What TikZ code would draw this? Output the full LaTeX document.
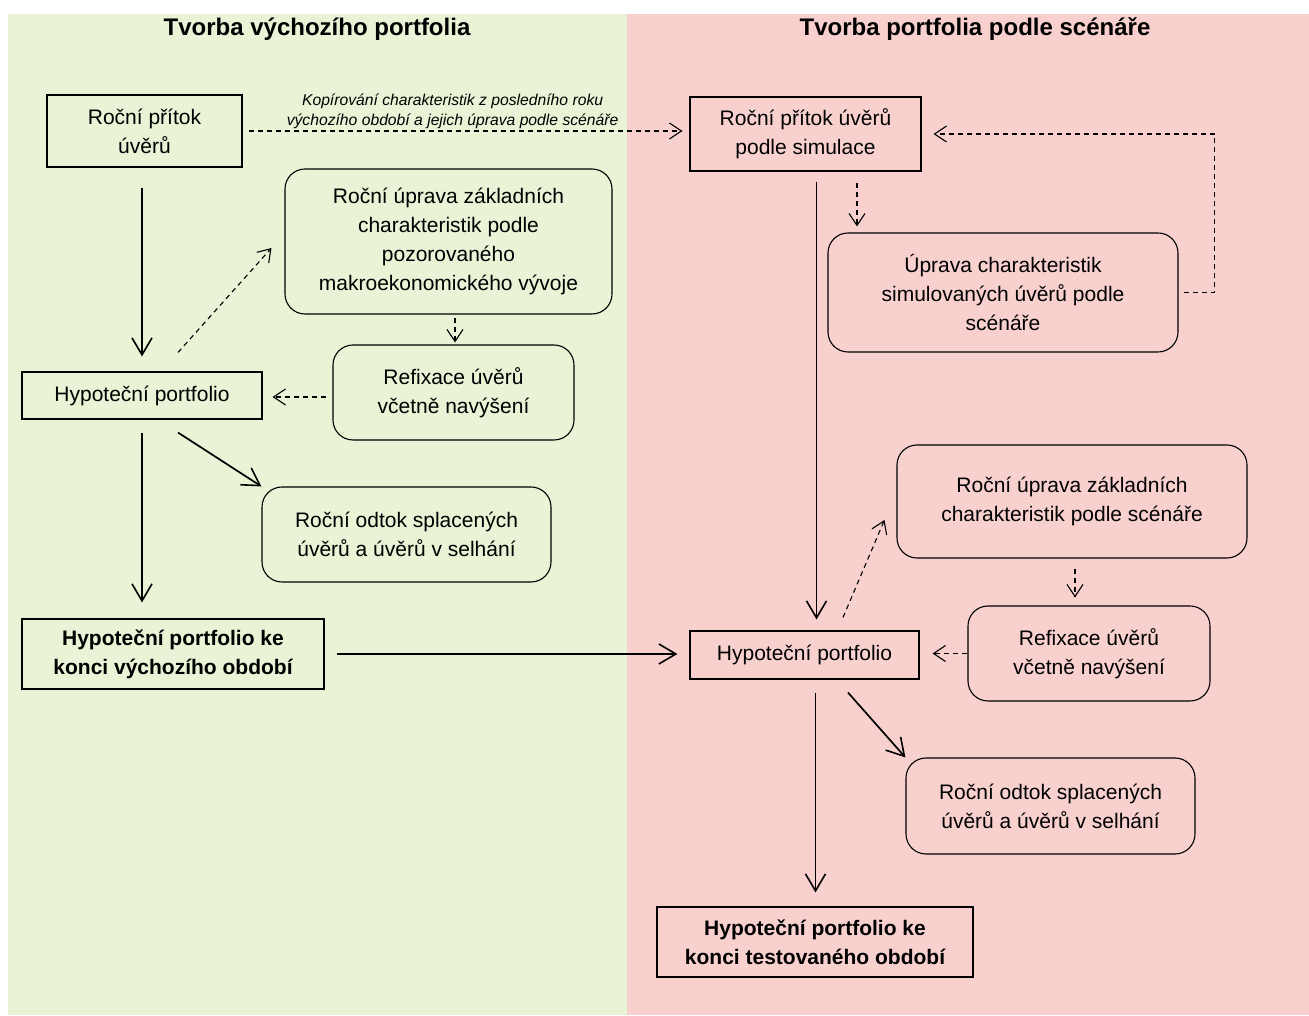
\documentclass[tikz,border=0pt]{standalone}
\usepackage{fontspec}
\setmainfont{Liberation Sans}
\usepackage{tikz}
\usetikzlibrary{arrows.meta, positioning, calc}
\definecolor{zelena}{RGB}{233,243,214}
\definecolor{ruzova}{RGB}{248,209,207}
\tikzset{>=stealth,
  box/.style={draw, line width=1.1pt, inner sep=0pt, align=center,
    font=\fontsize{21}{29}\selectfont},
  rbox/.style={box, rounded corners=20pt},
  flow/.style={line width=1.7pt, -{Straight Barb[length=17pt,width=20pt,line width=1.6pt]}},
  dflow/.style={line width=1.1pt, dash pattern=on 5pt off 4pt,
    -{Straight Barb[length=12pt,width=16pt,line width=1.1pt]}},
  nadpis/.style={font=\fontsize{24}{28}\selectfont\bfseries}}

\begin{document}
\begin{tikzpicture}[x=1pt,y=1pt]
        \useasboundingbox (0,0) rectangle (1309,1015);
        \fill [zelena] (8,0) rectangle (627,1001);
        \fill [ruzova] (627,0) rectangle (1309,1001);
        \node (T1) at (317,986) [nadpis]{Tvorba výchozího portfolia};
        \node (T2) at (975,986) [nadpis]{Tvorba portfolia podle scénáře};
        % vychozi obdobi
        \node (A1) at (144.5,884) [box, minimum width=195, minimum height=72]{Roční přítok\\úvěrů};
        \node (A2) at (448.5,773.5) [rbox, minimum width=327, minimum height=145]{Roční úprava základních\\charakteristik podle\\pozorovaného\\makroekonomického vývoje};
        \node (A3) at (453.5,622.5) [rbox, minimum width=241, minimum height=95]{Refixace úvěrů\\včetně navýšení};
        \node (A4) at (142,619.5) [box, minimum width=240, minimum height=47]{Hypoteční portfolio};
        \node (A5) at (406.5,480.5) [rbox, minimum width=289, minimum height=95]{Roční odtok splacených\\úvěrů a úvěrů v selhání};
        \node (A6) at (173,361) [box, minimum width=302, minimum height=70, font=\fontsize{21}{29}\selectfont\bfseries]{Hypoteční portfolio ke\\konci výchozího období};
        % scenar
        \node (B1) at (805.5,881) [box, minimum width=231, minimum height=74]{Roční přítok úvěrů\\podle simulace};
        \node (B2) at (1003,722.5) [rbox, minimum width=350, minimum height=119]{Úprava charakteristik\\simulovaných úvěrů podle\\scénáře};
        \node (B3) at (1072,513.5) [rbox, minimum width=350, minimum height=113]{Roční úprava základních\\charakteristik podle scénáře};
        \node (B4) at (804.5,360) [box, minimum width=229, minimum height=48]{Hypoteční portfolio};
        \node (B5) at (1089,361.5) [rbox, minimum width=242, minimum height=95]{Refixace úvěrů\\včetně navýšení};
        \node (B6) at (1050.5,209) [rbox, minimum width=289, minimum height=96]{Roční odtok splacených\\úvěrů a úvěrů v selhání};
        \node (B7) at (815,73) [box, minimum width=316, minimum height=70, font=\fontsize{21}{29}\selectfont\bfseries]{Hypoteční portfolio ke\\konci testovaného období};
        % plne sipky
        \draw [flow, shorten <=20pt, shorten >=15pt](A1.south -| A4.north)--(A4.north);
        \draw [flow, shorten <=13pt, shorten >=16pt](A4.south)--(A4.south |- A6.north);
        \draw [flow]([xshift=36pt,yshift=-13pt]A4.south)--(A5.north west);
        \draw [flow, shorten <=12pt, shorten >=12pt](A6.east)--(A6.east -| B4.west);
        \draw [flow, shorten <=10pt, shorten >=11pt]([xshift=11pt]B1.south)--([xshift=11pt]B1.south |- B4.north);
        \draw [flow, shorten <=13pt, shorten >=14pt]([xshift=11pt]B4.south)--([xshift=11pt]B4.south |- B7.north);
        \draw [flow]([xshift=43.5pt,yshift=-13pt]B4.south)--(B6.north west);
        % carkovane sipky
        \draw [dflow, shorten <=6pt, shorten >=7pt](A1.east)--(A1.east -| B1.west)
              node (K) [pos=0.47, above=-2pt, align=center, font=\fontsize{15.7}{20}\selectfont\itshape]{Kopírování charakteristik z posledního roku\\výchozího období a jejich úprava podle scénáře};
        \draw [dflow]([xshift=36pt,yshift=19pt]A4.north)--([xshift=-13pt,yshift=-6.5pt]A2.west);
        \draw [dflow, shorten <=3pt, shorten >=2pt]([xshift=1.5pt]A3.north |- A2.south)--([xshift=1.5pt]A3.north);
        \draw [dflow, shorten <=6pt, shorten >=10pt]([yshift=-4.5pt]A3.west)--([yshift=-4.5pt]A3.west -| A4.east);
        \draw [dflow, shorten <=11pt, shorten >=6pt]([xshift=51.5pt]B1.south)--([xshift=51.5pt]B1.south |- B2.north);
        \draw [dflow, shorten <=5pt, shorten >=12pt](B2.east)--++(36,0) |- (B1.east);
        \draw [dflow]([xshift=38.5pt,yshift=13pt]B4.north)--([xshift=-12pt,yshift=-18.5pt]B3.west);
        \draw [dflow, shorten <=10pt, shorten >=8pt]([xshift=3pt]B3.south)--([xshift=3pt]B3.south |- B5.north);
        \draw [dflow, shorten >=13pt](B5.west)--(B5.west -| B4.east);
        \end{tikzpicture}
\end{document}
